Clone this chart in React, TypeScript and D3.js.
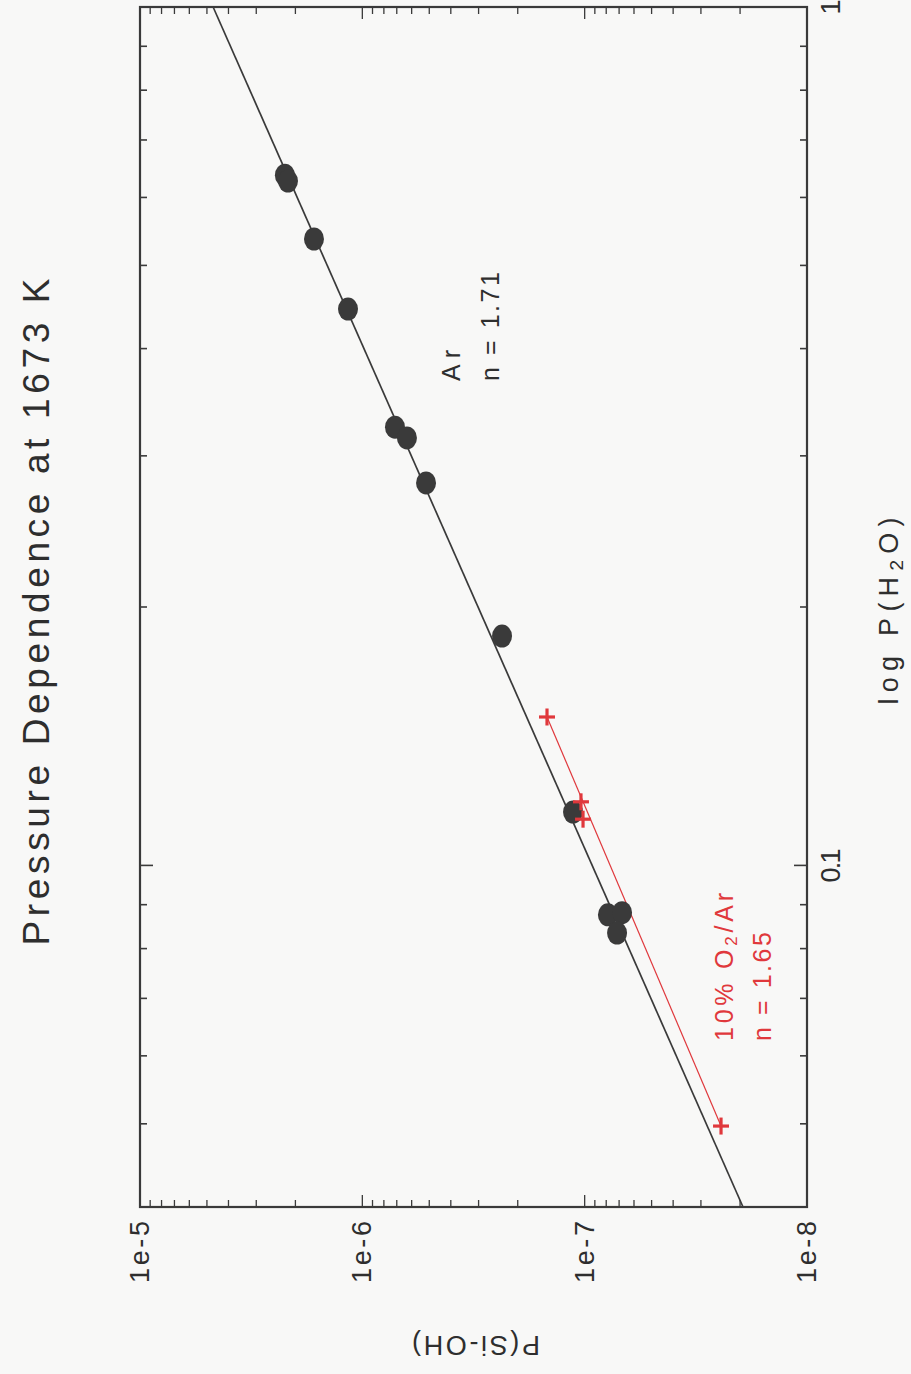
import React from 'react';
import * as d3 from 'd3';

// P(H2O) values (x of the original plot, drawn vertically) and P(Si-OH) values
const arPH2O = [0.637, 0.627, 0.5367, 0.4447, 0.324, 0.3148, 0.279, 0.185, 0.1154, 0.0876, 0.0881, 0.0834];
const arPSiOH = [2.23e-6, 2.16e-6, 1.65e-6, 1.16e-6, 7.13e-7, 6.3e-7, 5.17e-7, 2.353e-7, 1.128e-7, 7.86e-8, 6.79e-8, 7.15e-8];

const o2PH2O = [0.1489, 0.1186, 0.1132, 0.0497];
const o2PSiOH = [1.477e-7, 1.039e-7, 1.017e-7, 2.436e-8];

// fitted lines, end points
const arFitPH2O = [0.04, 1];
const arFitPSiOH = [1.94e-8, 4.69e-6];
const o2FitPH2O = [0.1489, 0.0497];
const o2FitPSiOH = [1.477e-7, 2.436e-8];

const xTickLabels = ['0.1', '1'];
const yTickLabels = ['1e-8', '1e-7', '1e-6', '1e-5'];

const W = 911, H = 1374;
const left = 140, right = 807, top = 7, bottom = 1207;
const ink = '#3a3a3a';
const txt = '#2e2e2e';
const red = '#e0383c';
const font = '"Liberation Sans", Arial, sans-serif';

export default function App() {
  // the page is turned a quarter: P(H2O) runs up the page, P(Si-OH) runs to the left
  const xS = d3.scaleLog().domain([0.04, 1]).range([bottom, top]);
  const yS = d3.scaleLog().domain([1e-8, 1e-5]).range([right, left]);

  const isMajor = (v: number) => Math.abs(Math.log10(v) - Math.round(Math.log10(v))) < 1e-6;

  const line = d3.line<[number, number]>()
    .x(d => yS(d[1]))
    .y(d => xS(d[0]));

  const arFit = arFitPH2O.map((v, i) => [v, arFitPSiOH[i]] as [number, number]);
  const o2Fit = o2FitPH2O.map((v, i) => [v, o2FitPSiOH[i]] as [number, number]);

  const rot = (x: number, y: number, a = -90) => `translate(${x},${y}) rotate(${a})`;

  return (
    <svg width={W} height={H} style={{position: 'absolute', left: 0, top: 0}} fontFamily={font}>
      <rect width={W} height={H} fill="#f8f8f7" />

      {/* title */}
      <text transform={rot(36, 612)} textAnchor="middle" dominantBaseline="central"
        fontSize={37} fill={txt} textLength={667} lengthAdjust="spacing">
        Pressure Dependence at 1673 K
      </text>

      {/* ticks along the P(Si-OH) axis (bottom and top edges) */}
      {yS.ticks().map((t, i) => {
        const len = isMajor(t) ? 12 : 7;
        const x = yS(t);
        return (
          <g key={'yt' + i} stroke={ink} strokeWidth={1.3}>
            <line x1={x} x2={x} y1={bottom} y2={bottom - len} />
            <line x1={x} x2={x} y1={top} y2={top + len} />
          </g>
        );
      })}

      {/* ticks along the P(H2O) axis (right and left edges) */}
      {xS.ticks().map((t, i) => {
        const len = isMajor(t) ? 13 : 7;
        const y = xS(t);
        return (
          <g key={'xt' + i} stroke={ink} strokeWidth={1.6}>
            <line x1={right} x2={right - len} y1={y} y2={y} />
            <line x1={left} x2={left + len} y1={y} y2={y} />
          </g>
        );
      })}

      {/* frame */}
      <rect x={left} y={top} width={right - left} height={bottom - top} fill="none" stroke={ink} strokeWidth={2.2} />

      {/* tick labels */}
      {yTickLabels.map(l => (
        <text key={l} transform={rot(yS(+l), 1221)} textAnchor="end" dominantBaseline="central"
          fontSize={27} fill={txt} textLength={62} lengthAdjust="spacing">{l}</text>
      ))}
      {xTickLabels.map(l => (
        <text key={l} transform={rot(831, xS(+l))} textAnchor="middle" dominantBaseline="central"
          fontSize={27} fill={txt} textLength={l.length > 1 ? 34 : 13} lengthAdjust="spacing">{l}</text>
      ))}

      {/* axis titles */}
      <text transform={rot(889, 611)} textAnchor="middle" dominantBaseline="central"
        fontSize={27} fill={txt} textLength={187} lengthAdjust="spacing">
        log P(H<tspan dy={7} fontSize={19}>2</tspan><tspan dy={-7}>O)</tspan>
      </text>
      <text transform={rot(476, 1345, 180)} textAnchor="middle" dominantBaseline="central"
        fontSize={27} fill={txt} textLength={128} lengthAdjust="spacing">P(Si-OH)</text>

      {/* fits */}
      <path d={line(arFit) || ''} fill="none" stroke={ink} strokeWidth={1.7} />
      <path d={line(o2Fit) || ''} fill="none" stroke={red} strokeWidth={1.2} />

      {/* Ar points */}
      {arPH2O.map((v, i) => (
        <ellipse key={'ar' + i} cx={yS(arPSiOH[i])} cy={xS(v)} rx={10} ry={11.5} fill={ink} />
      ))}

      {/* O2/Ar points */}
      {o2PH2O.map((v, i) => {
        const cx = yS(o2PSiOH[i]);
        const cy = xS(v);
        return (
          <g key={'o2' + i} stroke={red} strokeWidth={3.2}>
            <line x1={cx - 8} x2={cx + 8} y1={cy} y2={cy} />
            <line x1={cx} x2={cx} y1={cy - 8.5} y2={cy + 8.5} />
          </g>
        );
      })}

      {/* annotations */}
      <text transform={rot(451, 381)} textAnchor="start" dominantBaseline="central"
        fontSize={25} fill={txt} textLength={31} lengthAdjust="spacing">Ar</text>
      <text transform={rot(490, 381)} textAnchor="start" dominantBaseline="central"
        fontSize={25} fill={txt} textLength={109} lengthAdjust="spacing">n = 1.71</text>

      <text transform={rot(724, 1041)} textAnchor="start" dominantBaseline="central"
        fontSize={25} fill={red} textLength={148} lengthAdjust="spacing">
        10% O<tspan dy={7} fontSize={17}>2</tspan><tspan dy={-7}>/Ar</tspan>
      </text>
      <text transform={rot(762, 1041)} textAnchor="start" dominantBaseline="central"
        fontSize={25} fill={red} textLength={109} lengthAdjust="spacing">n = 1.65</text>
    </svg>
  );
}
